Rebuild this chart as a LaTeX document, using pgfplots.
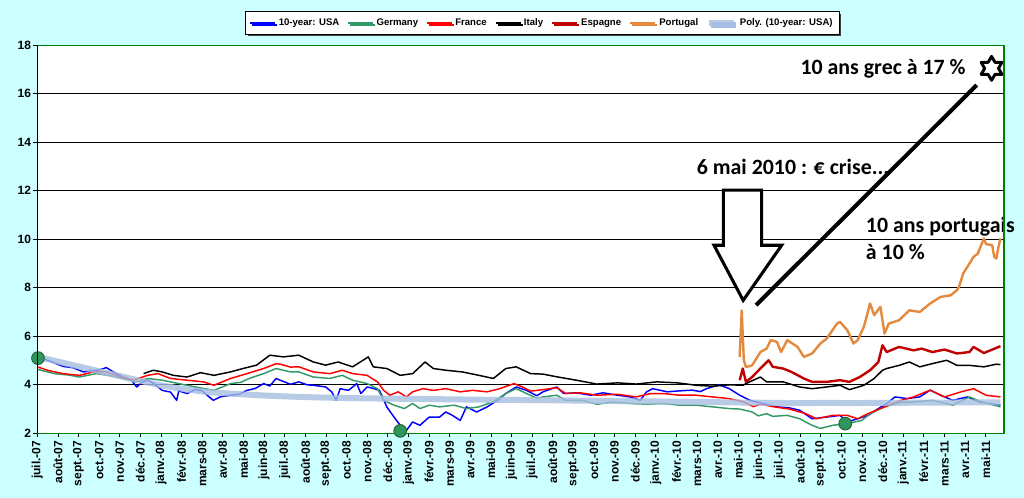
\documentclass[border=0pt]{standalone}
\usepackage{fontspec}
\setmainfont{Liberation Sans}
\newfontfamily\calib{Carlito}
\usepackage{pgfplots}
\pgfplotsset{compat=1.18}
\usetikzlibrary{shadows}

\definecolor{bgcyan}{RGB}{204,255,255}
\definecolor{cUSA}{RGB}{0,0,255}
\definecolor{cGER}{RGB}{51,153,102}
\definecolor{cFRA}{RGB}{255,0,0}
\definecolor{cESP}{RGB}{192,0,0}
\definecolor{cPOR}{RGB}{228,138,60}
\definecolor{cPOLY}{RGB}{165,190,225}
\definecolor{frameg}{RGB}{0,128,0}
\definecolor{dotg}{RGB}{46,150,90}

\pgfdeclareplotmark{hexagram}{%
  \pgfpathmoveto{\pgfpointpolar{90}{\pgfplotmarksize}}%
  \pgfpathlineto{\pgfpointpolar{60}{0.57735\pgfplotmarksize}}%
  \pgfpathlineto{\pgfpointpolar{30}{\pgfplotmarksize}}%
  \pgfpathlineto{\pgfpointpolar{0}{0.57735\pgfplotmarksize}}%
  \pgfpathlineto{\pgfpointpolar{330}{\pgfplotmarksize}}%
  \pgfpathlineto{\pgfpointpolar{300}{0.57735\pgfplotmarksize}}%
  \pgfpathlineto{\pgfpointpolar{270}{\pgfplotmarksize}}%
  \pgfpathlineto{\pgfpointpolar{240}{0.57735\pgfplotmarksize}}%
  \pgfpathlineto{\pgfpointpolar{210}{\pgfplotmarksize}}%
  \pgfpathlineto{\pgfpointpolar{180}{0.57735\pgfplotmarksize}}%
  \pgfpathlineto{\pgfpointpolar{150}{\pgfplotmarksize}}%
  \pgfpathlineto{\pgfpointpolar{120}{0.57735\pgfplotmarksize}}%
  \pgfpathclose
  \pgfusepathqfillstroke
}

\begin{document}
\begin{tikzpicture}
\fill[bgcyan] (0pt,0pt) rectangle (768pt,373.5pt);
\begin{axis}[
  at={(27.98pt,48.5pt)}, anchor=south west,
  scale only axis, width=725pt, height=291.2pt,
  xmin=-0.034, xmax=46.67, ymin=2, ymax=18,
  clip=false,
  axis background/.style={fill=white},
  axis line style={frameg, line width=0.8pt},
  ytick={2,4,...,18},
  xtick={-0.034,0.962,1.958,2.955,3.951,4.947,5.943,6.939,7.935,8.931,9.927,10.924,11.920,12.916,13.912,14.908,15.904,16.900,17.897,18.893,19.889,20.885,21.881,22.877,23.873,24.870,25.866,26.862,27.858,28.854,29.850,30.846,31.842,32.839,33.835,34.831,35.827,36.823,37.819,38.815,39.811,40.808,41.804,42.800,43.796,44.792,45.788},
  xticklabels={juil.-07,août-07,sept.-07,oct.-07,nov.-07,déc.-07,janv.-08,févr.-08,mars-08,avr.-08,mai-08,juin-08,juil.-08,août-08,sept.-08,oct.-08,nov.-08,déc.-08,janv.-09,févr.-09,mars-09,avr.-09,mai-09,juin-09,juil.-09,août-09,sept.-09,oct.-09,nov.-09,déc.-09,janv.-10,févr.-10,mars-10,avr.-10,mai-10,juin-10,juil.-10,août-10,sept.-10,oct.-10,nov.-10,déc.-10,janv.-11,févr.-11,mars-11,avr.-11,mai-11},
  xtick pos=bottom, ytick pos=left,
  tick align=outside,
  major tick length=3pt,
  tick style={black, line width=0.6pt},
  ymajorgrids,
  major grid style={black, line width=0.5pt},
  /pgf/number format/assume math mode=true,
  xticklabel style={rotate=90, anchor=east, font=\bfseries\fontsize{9}{10}\selectfont, inner sep=2.5pt},
  yticklabel style={font=\bfseries\fontsize{9}{10}\selectfont, inner sep=1.5pt},
  legend style={at={(0.5226,1.0567)}, anchor=center, draw=black, line width=0.6pt, fill=white,
    font=\bfseries\fontsize{7.2}{9}\selectfont, legend columns=-1,
    /tikz/every even column/.append style={column sep=4pt},
    inner xsep=3pt, inner ysep=3pt,
    drop shadow={shadow xshift=1.5pt, shadow yshift=-1.5pt, fill=black!75, opacity=1}},
  legend image code/.code={\draw[#1] (0pt,0pt) -- (18.75pt,0pt);},
  every axis plot/.append style={line join=round},
]
% 10-year USA
\addplot[cUSA, line width=1.1pt] coordinates {
(0,5.15) (0.5,5.0) (1.2,4.76) (1.7,4.7) (2.2,4.53) (2.6,4.58) (3.0,4.62) (3.3,4.71) (3.6,4.55)
(4.1,4.32) (4.5,4.2) (4.77,3.91) (5.0,4.1) (5.3,4.19) (5.6,4.05) (6.0,3.77) (6.4,3.7) (6.7,3.36)
(6.8,3.75) (7.2,3.64) (7.6,3.8) (7.9,3.77) (8.2,3.55) (8.47,3.36) (8.8,3.5) (9.3,3.57) (9.7,3.6)
(10.1,3.77) (10.5,3.85) (10.9,4.05) (11.2,3.95) (11.5,4.26) (11.7,4.19) (12.2,4.02) (12.6,4.12)
(13.0,4.0) (13.3,3.98) (13.9,3.91) (14.2,3.7) (14.4,3.36) (14.6,3.84) (15.0,3.77) (15.4,4.05)
(15.6,3.64) (15.9,3.91) (16.2,3.85) (16.5,3.77) (16.85,3.09) (17.2,2.67) (17.5,2.33) (17.8,2.12)
(18.1,2.47) (18.45,2.33) (18.9,2.67) (19.4,2.67) (19.7,2.88) (20.0,2.75) (20.4,2.53) (20.7,3.09)
(21.2,2.88) (21.7,3.09) (22.2,3.36) (22.6,3.64) (23.1,3.91) (23.6,3.77) (24.1,3.55) (24.4,3.71)
(25.06,3.91) (25.4,3.64) (26.0,3.67) (26.7,3.57) (27.3,3.67) (28.0,3.57) (28.6,3.5) (29.1,3.36)
(29.4,3.71) (29.7,3.84) (30.4,3.71) (31.0,3.75) (31.6,3.78) (32.0,3.72) (32.3,3.84) (32.9,4.0)
(33.4,3.84) (33.9,3.57) (34.4,3.36) (35.0,3.23) (35.7,3.09) (36.3,3.05) (36.8,2.95) (37.4,2.6)
(38.1,2.67) (38.75,2.74) (39.1,2.47) (39.6,2.6) (40.1,2.74) (40.6,3.02) (41.0,3.22) (41.4,3.5)
(42.0,3.43) (42.6,3.5) (43.1,3.78) (43.6,3.57) (44.2,3.36) (44.9,3.5) (45.5,3.29) (46.0,3.22) (46.5,3.16)
};
\addlegendentry{10-year: USA}
% Germany
\addplot[cGER, line width=1.1pt] coordinates {
(0,4.63) (0.8,4.46) (1.5,4.4) (2.0,4.32) (2.8,4.46) (3.4,4.39) (4.1,4.26) (4.7,4.12) (5.3,4.26)
(6.0,4.19) (6.8,4.05) (7.6,3.91) (8.5,3.77) (9.3,4.05) (9.8,4.1) (10.2,4.26) (10.9,4.46) (11.5,4.67)
(11.7,4.63) (12.2,4.53) (12.6,4.53) (13.3,4.32) (14.1,4.26) (14.7,4.39) (15.2,4.19) (15.9,4.05)
(16.4,3.84) (16.7,3.36) (17.2,3.16) (17.7,3.02) (18.1,3.23) (18.45,3.02) (18.9,3.16) (19.4,3.09)
(20.1,3.16) (20.7,3.02) (21.3,3.09) (22.0,3.3) (22.6,3.64) (23.1,3.84) (23.6,3.64) (24.1,3.45)
(24.4,3.5) (25.06,3.57) (25.5,3.36) (26.3,3.36) (27.0,3.2) (27.8,3.29) (28.6,3.23) (29.4,3.2)
(30.2,3.23) (31.0,3.16) (31.8,3.16) (32.6,3.09) (33.4,3.02) (33.9,3.0) (34.5,2.88) (34.8,2.72)
(35.2,2.81) (35.5,2.7) (36.2,2.74) (36.8,2.6) (37.4,2.33) (37.8,2.2) (38.4,2.33) (39.1,2.4)
(39.8,2.53) (40.2,2.81) (40.9,3.09) (41.7,3.29) (42.3,3.29) (43.2,3.36) (44.2,3.16) (45.0,3.5)
(45.6,3.29) (46.5,3.09)
};
\addlegendentry{Germany}
% France
\addplot[cFRA, line width=1.1pt] coordinates {
(0,4.73) (0.5,4.59) (1.2,4.46) (2.0,4.39) (2.67,4.53) (3.3,4.53) (4.0,4.32) (4.6,4.19) (5.3,4.39)
(5.8,4.46) (6.4,4.26) (7.2,4.19) (8.0,4.12) (8.5,3.98) (9.3,4.26) (10.1,4.46) (10.9,4.67) (11.5,4.87)
(11.7,4.85) (12.2,4.73) (12.6,4.74) (13.3,4.53) (14.1,4.46) (14.7,4.6) (15.2,4.46) (15.9,4.39)
(16.4,4.12) (16.7,3.77) (17.0,3.57) (17.4,3.71) (17.8,3.5) (18.1,3.71) (18.6,3.84) (19.1,3.77)
(19.7,3.84) (20.4,3.71) (21.0,3.77) (21.7,3.71) (22.3,3.84) (23.0,4.05) (23.4,3.91) (23.8,3.74)
(24.4,3.8) (25.06,3.88) (25.5,3.64) (26.2,3.67) (27.0,3.57) (28.0,3.61) (28.9,3.5) (29.6,3.64)
(30.2,3.64) (31.0,3.57) (31.8,3.57) (32.6,3.5) (33.4,3.43) (34.07,3.3) (34.56,3.1) (34.9,3.2)
(35.5,3.1) (36.3,3.0) (37.1,2.81) (37.6,2.6) (38.4,2.74) (39.1,2.74) (39.6,2.6) (40.1,2.81)
(40.9,3.09) (41.7,3.36) (42.3,3.5) (43.1,3.78) (43.8,3.5) (44.6,3.71) (45.2,3.84) (45.8,3.57) (46.5,3.5)
};
\addlegendentry{France}
% Italy
\addplot[black, line width=1.1pt] coordinates {
(5.1,4.46) (5.57,4.6) (6.0,4.53) (6.54,4.39) (7.2,4.32) (7.85,4.5) (8.5,4.39) (9.3,4.53) (9.9,4.67)
(10.56,4.81) (11.2,5.22) (11.85,5.15) (12.6,5.22) (13.3,4.94) (13.9,4.81) (14.5,4.94) (15.2,4.74)
(15.96,5.15) (16.2,4.74) (16.85,4.67) (17.5,4.39) (18.1,4.46) (18.7,4.94) (19.1,4.67) (19.7,4.6)
(20.5,4.53) (21.3,4.39) (22.0,4.26) (22.6,4.67) (23.1,4.74) (23.8,4.46) (24.4,4.44) (25.06,4.33)
(26.0,4.19) (27.0,4.03) (28.0,4.08) (28.9,4.03) (29.9,4.12) (30.9,4.08) (31.8,3.98) (32.6,3.94)
(33.4,4.0) (34.07,3.98) (34.2,4.05) (34.9,4.32) (35.2,4.12) (36.0,4.12) (36.8,3.91) (37.4,3.84)
(38.1,3.91) (38.75,3.98) (39.2,3.8) (39.9,3.98) (40.4,4.26) (40.8,4.6) (41.0,4.67) (41.6,4.8)
(42.1,4.94) (42.6,4.74) (43.2,4.87) (43.9,5.01) (44.4,4.8) (45.0,4.8) (45.7,4.74) (46.3,4.85) (46.5,4.83)
};
\addlegendentry{Italy}
% Espagne
\addplot[cESP, line width=1.8pt] coordinates {
(33.9,4.19) (34.05,4.67) (34.2,4.12) (34.5,4.32) (34.9,4.67) (35.3,5.01) (35.5,4.74) (36.0,4.67)
(36.4,4.53) (37.0,4.26) (37.4,4.12) (38.1,4.12) (38.75,4.19) (39.2,4.12) (39.7,4.32) (40.2,4.6)
(40.6,4.94) (40.8,5.63) (41.0,5.35) (41.6,5.56) (42.3,5.42) (42.7,5.49) (43.2,5.35) (43.8,5.45)
(44.4,5.29) (45.0,5.35) (45.2,5.56) (45.7,5.31) (46.5,5.59)
};
\addlegendentry{Espagne}
% Portugal
\addplot[cPOR, line width=1.8pt] coordinates {
(33.9,5.15) (34.0,7.07) (34.1,5.02) (34.2,4.73) (34.5,4.8) (34.9,5.35) (35.2,5.49) (35.4,5.84)
(35.7,5.77) (35.9,5.35) (36.2,5.84) (36.7,5.56) (37.0,5.15) (37.4,5.29) (37.8,5.7) (38.1,5.9)
(38.6,6.52) (38.75,6.59) (39.1,6.25) (39.4,5.7) (39.6,5.84) (39.9,6.39) (40.2,7.35) (40.4,6.87)
(40.7,7.21) (40.9,6.11) (41.1,6.52) (41.6,6.66) (42.1,7.07) (42.6,7.0) (43.1,7.35) (43.6,7.62)
(44.1,7.69) (44.4,7.9) (44.5,8.05) (44.7,8.59) (44.9,8.86) (45.2,9.27) (45.4,9.4) (45.7,10.03)
(45.8,9.8) (46.1,9.75) (46.2,9.27) (46.3,9.2) (46.4,9.67) (46.5,10.03)
};
\addlegendentry{Portugal}
% Poly trend
\addplot[cPOLY, line width=4.5pt, opacity=0.8, smooth] coordinates {
(0,5.15) (2,4.75) (4,4.35) (6,3.97) (8,3.72) (10,3.6) (12,3.52) (14,3.47) (16,3.44) (18,3.42)
(20,3.4) (22,3.38) (24,3.37) (26,3.35) (28,3.33) (30,3.31) (32,3.29) (34,3.27) (36,3.25)
(38,3.25) (40,3.25) (42,3.26) (44,3.27) (46.5,3.28)
};
\addlegendentry{Poly. (10-year: USA)}
% green dots
\addplot[only marks, mark=*, mark size=4.8pt, mark options={fill=dotg, draw=dotg!60!black, line width=0.6pt}, forget plot]
coordinates {(0,5.1) (17.5,2.1) (39.0,2.4)};
% annotations
\draw[black, line width=2.3pt, fill=white, line join=miter]
 (axis cs:33.11,12.02) -- (axis cs:34.96,12.02) -- (axis cs:34.96,9.75) -- (axis cs:35.93,9.75)
 -- (axis cs:34.07,7.48) -- (axis cs:32.66,9.75) -- (axis cs:33.11,9.75) -- cycle;
\draw[black, line width=3pt] (axis cs:34.69,7.28) -- (axis cs:45.35,16.35);
\addplot[only marks, mark=hexagram, mark size=9pt, mark options={fill=white, draw=black, line width=2.2pt, line join=round}, forget plot]
coordinates {(46.07,17.04)};
\node[anchor=east, inner sep=0pt, font=\calib\bfseries\fontsize{16.4}{18}\selectfont] at (axis cs:44.83,17.04) {10 ans grec à 17 \%};
\node[anchor=west, inner sep=0pt, font=\calib\bfseries\fontsize{16.4}{18}\selectfont] at (axis cs:31.82,12.98) {6 mai 2010 : € crise...};
\node[anchor=west, inner sep=0pt, font=\calib\bfseries\fontsize{16.4}{18}\selectfont] at (axis cs:39.99,10.51) {10 ans portugais};
\node[anchor=west, inner sep=0pt, font=\calib\bfseries\fontsize{16.4}{18}\selectfont] at (axis cs:39.99,9.48) {à 10 \%};
\end{axis}
\draw[frameg, line width=0.8pt] (27.98pt,339.7pt) -- (752.98pt,339.7pt) -- (752.98pt,48.5pt);
\draw[black, line width=0.8pt] (27.98pt,48.5pt) -- (27.98pt,339.7pt);
\pgfresetboundingbox
\path (0pt,0pt) rectangle (768pt,373.5pt);
\end{tikzpicture}
\end{document}
